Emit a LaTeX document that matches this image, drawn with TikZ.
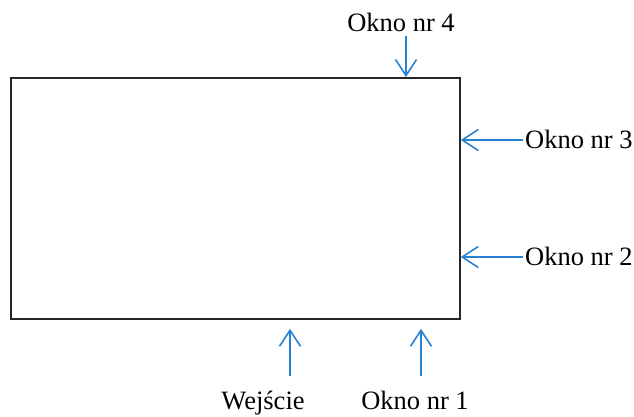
\documentclass[tikz,border=0pt]{standalone}
\usepackage{fontspec}
\setmainfont{Liberation Serif}
\usetikzlibrary{arrows.meta}
\definecolor{arrblue}{RGB}{40,130,210}
\tikzset{
  lbl/.style={inner sep=0pt, font=\fontsize{26.5}{32}\selectfont},
  arr/.style={draw=arrblue, line width=1.6pt, -{Straight Barb[length=16pt,width=21pt,line width=1.6pt]}},
  boxst/.style={draw=black!85, line width=1.8pt, inner sep=0pt}
}
\begin{document}
\begin{tikzpicture}[x=1pt,y=-1pt]
\useasboundingbox (0,0) rectangle (634,416);
\node[boxst, minimum width=449pt, minimum height=241pt, anchor=north west] (box) at (10,77) {};
% labels
\node[lbl, anchor=base] (l4) at (401,31) {Okno nr 4};
\node[lbl, anchor=base west] (l3) at (525,148) {Okno nr 3};
\node[lbl, anchor=base west] (l2) at (525,265) {Okno nr 2};
\node[lbl, anchor=base] (lw) at (263,409) {Wejście};
\node[lbl, anchor=base] (l1) at (415,409) {Okno nr 1};
% arrow tails
\coordinate (t4) at (406,36);
\coordinate (t3) at (523,140);
\coordinate (t2) at (523,257);
\coordinate (tw) at (290,376);
\coordinate (t1) at (421,376);
\draw[arr] (t4) -- (t4 |- box.north);
\draw[arr] (t3) -- (t3 -| box.east);
\draw[arr] (t2) -- (t2 -| box.east);
\draw[arr] (tw) -- ([yshift=-9pt]tw |- box.south);
\draw[arr] (t1) -- ([yshift=-9pt]t1 |- box.south);
\end{tikzpicture}
\end{document}
